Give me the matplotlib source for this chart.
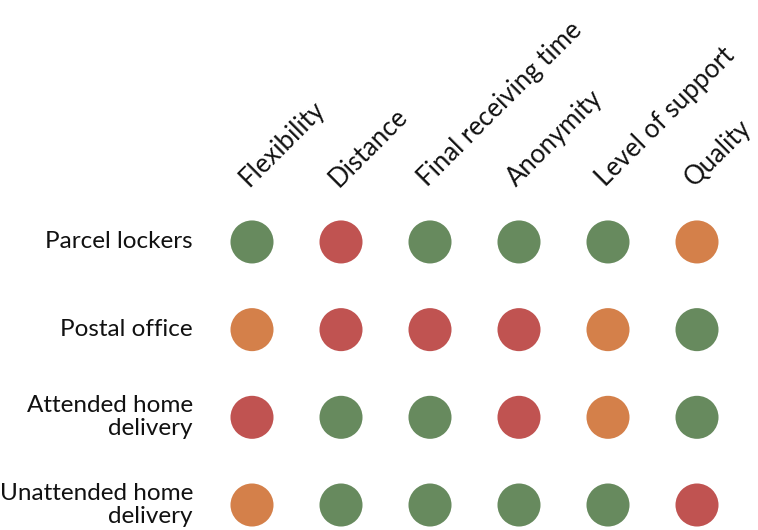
import matplotlib.pyplot as plt

criteria = ['Flexibility', 'Distance', 'Final receiving time', 'Anonymity',
            'Level of support', 'Quality']
options = ['Parcel lockers', 'Postal office', 'Attended home\ndelivery',
           'Unattended home\ndelivery']

# g = good, m = medium, b = bad
ratings = [
    ['g', 'b', 'g', 'g', 'g', 'm'],
    ['m', 'b', 'b', 'b', 'm', 'g'],
    ['b', 'g', 'g', 'b', 'm', 'g'],
    ['m', 'g', 'g', 'g', 'g', 'b'],
]

colors = {'g': '#678a5e', 'm': '#d4804a', 'b': '#c05351'}

plt.rcParams['font.family'] = ['Lato', 'DejaVu Sans']

fig = plt.figure(figsize=(7.58, 5.30), dpi=100)
ax = fig.add_axes([0, 0, 1, 1])

for r, row in enumerate(ratings):
    for c, val in enumerate(row):
        ax.scatter(c, r, s=960, color=colors[val], edgecolors='none')

for r, name in enumerate(options):
    ax.text(-0.663, r, name, ha='right', va='center', fontsize=17.5,
            linespacing=1.12, color='#111111')

for c, name in enumerate(criteria):
    ax.text(c - 0.03, -0.62, name, rotation=45, rotation_mode='anchor',
            ha='left', va='baseline', fontsize=18.5, color='#111111')

ax.set_xlim(-252 / 89, (758 - 252) / 89)
ax.set_ylim(3 + 25 / 87.7, -242 / 87.7)
ax.axis('off')

plt.savefig('out.png', dpi=100)
plt.close()
